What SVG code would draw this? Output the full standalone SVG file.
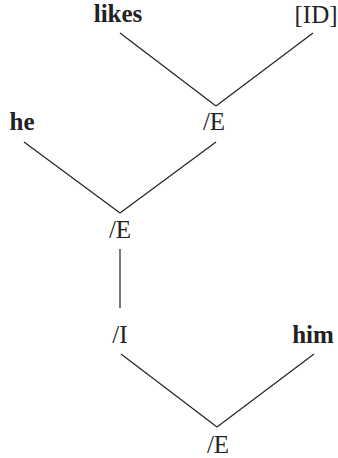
<svg xmlns="http://www.w3.org/2000/svg" width="338" height="458" viewBox="0 0 338 458">
<style>
text{font-family:"Liberation Serif","Times New Roman",serif;font-size:25px;fill:#222;text-anchor:middle}
.b{font-weight:bold}
.c line{stroke:#222;stroke-width:1.2}
</style>
<rect width="338" height="458" fill="#fff"/>
<g class="c" id="connectors">
<line x1="120" y1="33" x2="216" y2="106"/>
<line x1="313" y1="33" x2="216" y2="106"/>
<line x1="24" y1="142" x2="120" y2="213"/>
<line x1="216" y1="142" x2="120" y2="213"/>
<line x1="120" y1="249" x2="120" y2="308"/>
<line x1="121" y1="354" x2="217" y2="427"/>
<line x1="314" y1="354" x2="217" y2="427"/>
</g>
<g id="likes"><text class="b" x="118" y="22">likes</text></g>
<g id="ID"><text x="316" y="23">[ID]</text></g>
<g id="E1"><text x="214" y="130">/E</text></g>
<g id="he"><text class="b" x="22" y="130">he</text></g>
<g id="E2"><text x="120" y="238">/E</text></g>
<g id="I"><text x="120" y="343">/I</text></g>
<g id="him"><text class="b" x="313" y="343">him</text></g>
<g id="E3"><text x="218" y="453">/E</text></g>
</svg>
